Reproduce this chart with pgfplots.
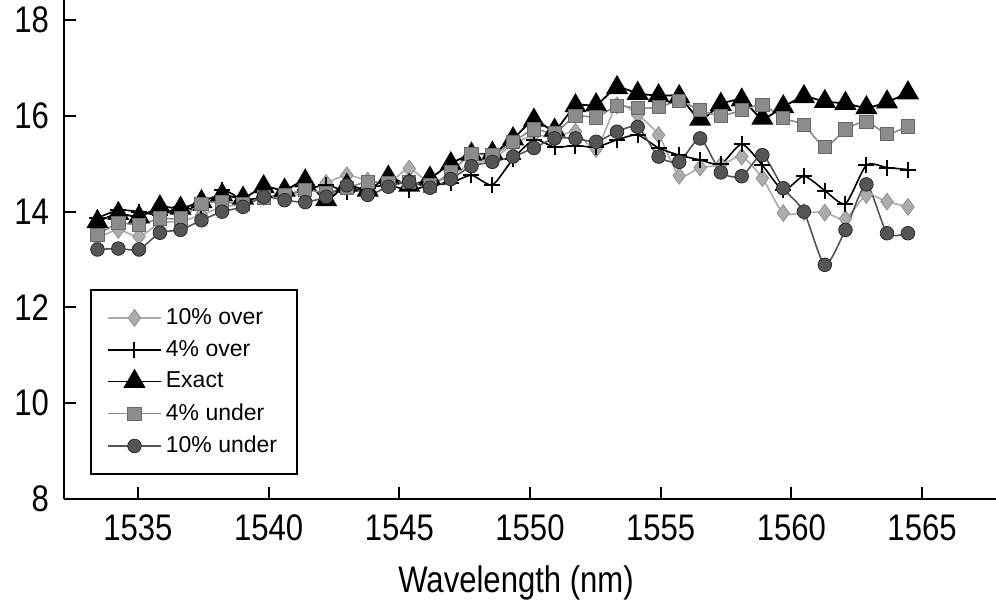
\documentclass[border=0pt]{standalone}
\usepackage{fontspec}
\setmainfont{Liberation Sans}
\newfontfamily\narrowsans{Liberation Sans}[FakeStretch=0.84]
\usepackage{pgfplots}
\pgfplotsset{compat=1.18}
\usepackage{pgfplotstable}
\definecolor{overten}{RGB}{172,172,172}
\definecolor{undfour}{RGB}{140,140,140}
\definecolor{undfouredge}{RGB}{105,105,105}
\definecolor{undten}{RGB}{85,85,85}
\definecolor{undtenedge}{RGB}{45,45,45}

% wavelength (nm) vs gain, five detuning cases
\pgfplotstableread{
x       o10   o4    ex    u4    u10
1533.45 13.45 13.87 13.79 13.51 13.21
1534.25 13.62 14.03 13.96 13.76 13.23
1535.04 13.48 14.00 13.89 13.72 13.21
1535.84 13.76 13.93 14.10 13.86 13.56
1536.63 13.80 14.10 14.07 13.86 13.62
1537.43 13.93 14.03 14.21 14.17 13.82
1538.22 14.10 14.45 14.35 14.20 14.00
1539.02 14.15 14.25 14.28 14.17 14.10
1539.81 14.30 14.30 14.52 14.30 14.31
1540.61 14.30 14.35 14.45 14.35 14.24
1541.40 14.40 14.45 14.64 14.45 14.20
1542.20 14.60 14.56 14.25 14.40 14.31
1542.99 14.76 14.42 14.55 14.50 14.55
1543.79 14.65 14.50 14.45 14.62 14.35
1544.58 14.60 14.55 14.72 14.60 14.52
1545.38 14.90 14.45 14.55 14.62 14.62
1546.17 14.60 14.55 14.70 14.55 14.50
1546.97 14.75 14.60 15.00 14.83 14.68
1547.76 15.00 14.76 15.20 15.20 14.95
1548.56 15.10 14.56 15.22 15.18 15.04
1549.35 15.40 15.10 15.52 15.45 15.15
1550.15 15.60 15.50 15.91 15.72 15.33
1550.94 15.55 15.35 15.70 15.64 15.53
1551.74 15.67 15.38 16.21 16.00 15.53
1552.53 15.31 15.35 16.23 15.97 15.46
1553.33 16.22 15.50 16.59 16.21 15.67
1554.12 16.02 15.60 16.47 16.16 15.77
1554.92 15.60 15.33 16.42 16.18 15.15
1555.71 14.75 15.18 16.40 16.31 15.04
1556.51 14.92 15.08 15.93 16.12 15.53
1557.30 14.97 14.99 16.24 16.00 14.82
1558.10 15.15 15.41 16.33 16.12 14.74
1558.89 14.70 14.97 15.95 16.23 15.18
1559.69 13.97 14.45 16.19 15.95 14.49
1560.48 13.99 14.74 16.40 15.81 14.00
1561.28 13.98 14.44 16.30 15.35 12.89
1562.07 13.85 14.17 16.26 15.72 13.62
1562.87 14.35 14.97 16.17 15.88 14.57
1563.66 14.21 14.92 16.29 15.63 13.55
1564.46 14.10 14.88 16.48 15.78 13.55
}\gaindata

\begin{document}
\begin{tikzpicture}
\begin{axis}[
  scale only axis,
  width=466pt, height=249.5pt,
  xmin=1532.17, xmax=1567.83,
  ymin=8, ymax=18.42,
  xtick={1535,1540,...,1565},
  ytick={8,10,...,18},
  axis x line*=bottom, axis y line*=left,
  axis line style={-, line width=1.3pt},
  tick align=inside,
  major tick length=6pt,
  tick style={black, line width=1pt},
  /pgf/number format/assume math mode=true,
  /pgf/number format/1000 sep={},
  ticklabel style={font=\narrowsans\fontsize{18.5}{20}\selectfont},
  xticklabel style={yshift=-4.5pt},
  yticklabel style={xshift=-4pt},
  xlabel={Wavelength (nm)},
  xlabel style={font=\narrowsans\fontsize{18.5}{20}\selectfont,
    at={(axis description cs:0.485,-0.168)}, anchor=center},
  legend cell align=left,
  legend image code/.code={
    \draw[mark repeat=2,mark phase=2,#1] plot coordinates {(0pt,0pt) (13.25pt,0pt) (26.5pt,0pt)};},
  legend style={at={(axis description cs:0.028,0.42)}, anchor=north west,
    draw=black, line width=1pt, font=\fontsize{11.5}{13}\selectfont,
    row sep=2.4pt, inner xsep=8pt, inner ysep=7pt},
]
\addplot[overten, line width=0.8pt, smooth, tension=0.4, mark=diamond*, mark size=4.2pt,
  mark options={fill=overten, draw=overten!85!black, line width=0.4pt}]
  table[x=x, y=o10] {\gaindata};
\addlegendentry{10\% over}
\addplot[black, line width=0.8pt, smooth, tension=0.4, mark=+, mark size=4pt,
  mark options={line width=1pt}]
  table[x=x, y=o4] {\gaindata};
\addlegendentry{4\% over}
\addplot[black, line width=0.9pt, smooth, tension=0.4, mark=triangle*, mark size=5.5pt,
  mark options={fill=black}]
  table[x=x, y=ex] {\gaindata};
\addlegendentry{Exact}
\addplot[undfour, line width=0.8pt, smooth, tension=0.4, mark=square*, mark size=3.3pt,
  mark options={fill=undfour, draw=undfouredge, line width=0.4pt}]
  table[x=x, y=u4] {\gaindata};
\addlegendentry{4\% under}
\addplot[undten, line width=0.8pt, smooth, tension=0.4, mark=*, mark size=3.4pt,
  mark options={fill=undten, draw=undtenedge, line width=0.4pt}]
  table[x=x, y=u10] {\gaindata};
\addlegendentry{10\% under}
\end{axis}
\pgfresetboundingbox
\path[use as bounding box] ([xshift=-32pt,yshift=-51pt]current axis.south west) rectangle (current axis.north east);
\end{tikzpicture}
\end{document}
